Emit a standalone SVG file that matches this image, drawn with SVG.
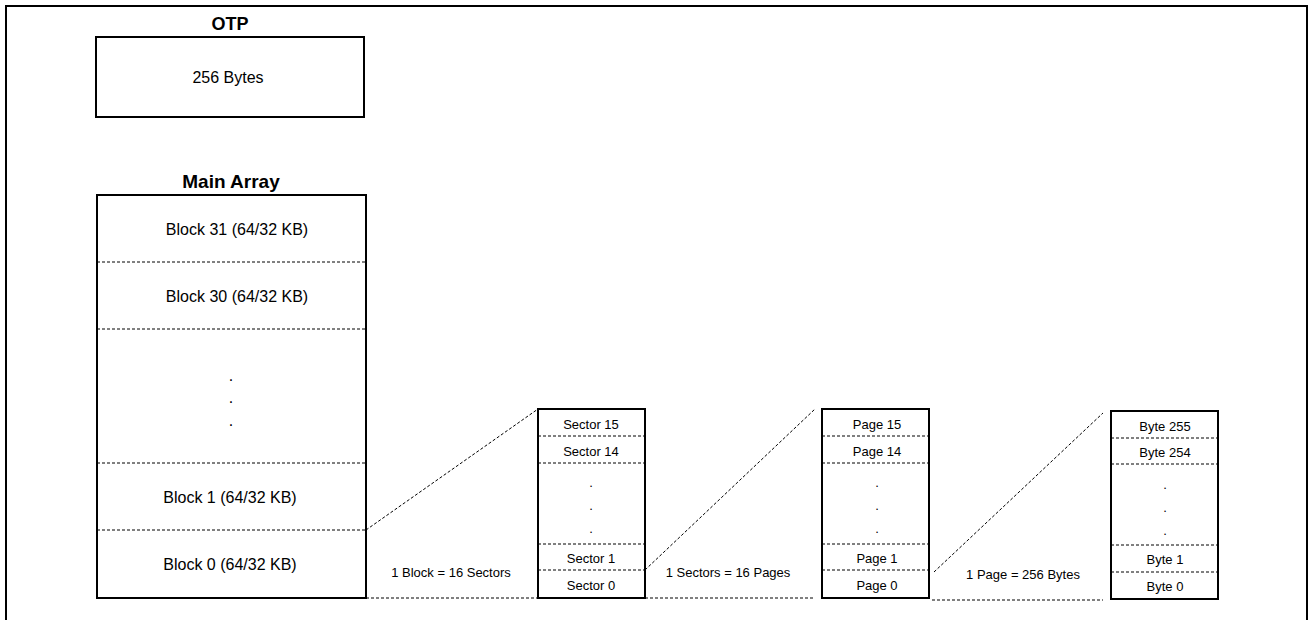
<svg xmlns="http://www.w3.org/2000/svg" width="1309" height="620" viewBox="0 0 1309 620">
<style>
.box{fill:#fff;stroke:#000;stroke-width:2}
.dash{fill:none;stroke:#000;stroke-width:1;stroke-dasharray:3,2}
text{font-family:"Liberation Sans",Arial,sans-serif;fill:#000;text-anchor:middle;dominant-baseline:central}
.title{font-weight:bold;font-size:18px}
.big{font-size:16px}
.sm{font-size:13px}
.lbl{font-size:13px}
</style>
<rect x="6" y="6" width="1301" height="630" fill="#fff" stroke="#000" stroke-width="2"/>
<g id="otp">
<text class="title" x="230" y="24">OTP</text>
<rect class="box" x="96" y="37" width="268" height="80"/>
<text class="big" x="228" y="77">256 Bytes</text>
</g>
<g id="main-array">
<text class="title" x="231" y="181" style="font-size:19px">Main Array</text>
<rect class="box" x="97" y="195" width="269" height="403"/>
<line class="dash" x1="97" y1="262" x2="366" y2="262"/>
<line class="dash" x1="97" y1="329" x2="366" y2="329"/>
<line class="dash" x1="97" y1="463" x2="366" y2="463"/>
<line class="dash" x1="97" y1="530" x2="366" y2="530"/>
<text class="big" x="237" y="229">Block 31 (64/32 KB)</text>
<text class="big" x="237" y="296">Block 30 (64/32 KB)</text>
<text class="big" x="231" y="375">.</text>
<text class="big" x="231" y="397">.</text>
<text class="big" x="231" y="420">.</text>
<text class="big" x="230" y="497">Block 1 (64/32 KB)</text>
<text class="big" x="230" y="564">Block 0 (64/32 KB)</text>
</g>
<g id="sectors">
<rect class="box" x="538" y="409" width="107" height="189"/>
<line class="dash" x1="538" y1="436" x2="645" y2="436"/>
<line class="dash" x1="538" y1="463" x2="645" y2="463"/>
<line class="dash" x1="538" y1="544" x2="645" y2="544"/>
<line class="dash" x1="538" y1="570" x2="645" y2="570"/>
<text class="sm" x="591" y="424">Sector 15</text>
<text class="sm" x="591" y="451">Sector 14</text>
<text class="sm" x="591" y="482">.</text>
<text class="sm" x="591" y="505">.</text>
<text class="sm" x="591" y="528">.</text>
<text class="sm" x="591" y="558">Sector 1</text>
<text class="sm" x="591" y="585">Sector 0</text>
</g>
<g id="pages">
<rect class="box" x="822" y="409" width="107" height="189"/>
<line class="dash" x1="822" y1="436" x2="929" y2="436"/>
<line class="dash" x1="822" y1="463" x2="929" y2="463"/>
<line class="dash" x1="822" y1="544" x2="929" y2="544"/>
<line class="dash" x1="822" y1="570" x2="929" y2="570"/>
<text class="sm" x="877" y="424">Page 15</text>
<text class="sm" x="877" y="451">Page 14</text>
<text class="sm" x="877" y="482">.</text>
<text class="sm" x="877" y="505">.</text>
<text class="sm" x="877" y="528">.</text>
<text class="sm" x="877" y="558">Page 1</text>
<text class="sm" x="877" y="585">Page 0</text>
</g>
<g id="bytes">
<rect class="box" x="1111" y="411" width="107" height="188"/>
<line class="dash" x1="1111" y1="438" x2="1218" y2="438"/>
<line class="dash" x1="1111" y1="464" x2="1218" y2="464"/>
<line class="dash" x1="1111" y1="545" x2="1218" y2="545"/>
<line class="dash" x1="1111" y1="572" x2="1218" y2="572"/>
<text class="sm" x="1165" y="426">Byte 255</text>
<text class="sm" x="1165" y="452">Byte 254</text>
<text class="sm" x="1165" y="484">.</text>
<text class="sm" x="1165" y="507">.</text>
<text class="sm" x="1165" y="530">.</text>
<text class="sm" x="1165" y="559">Byte 1</text>
<text class="sm" x="1165" y="586">Byte 0</text>
</g>
<g id="connectors">
<line class="dash" x1="366" y1="530" x2="538" y2="409"/>
<line class="dash" x1="366" y1="598" x2="538" y2="598"/>
<line class="dash" x1="645" y1="570" x2="815" y2="409"/>
<line class="dash" x1="645" y1="598" x2="815" y2="598"/>
<line class="dash" x1="934" y1="572" x2="1103" y2="413"/>
<line class="dash" x1="932" y1="600" x2="1103" y2="600"/>
</g>
<g id="labels">
<text class="lbl" x="451" y="572">1 Block = 16 Sectors</text>
<text class="lbl" x="728" y="572">1 Sectors = 16 Pages</text>
<text class="lbl" x="1023" y="574">1 Page = 256 Bytes</text>
</g>
</svg>
